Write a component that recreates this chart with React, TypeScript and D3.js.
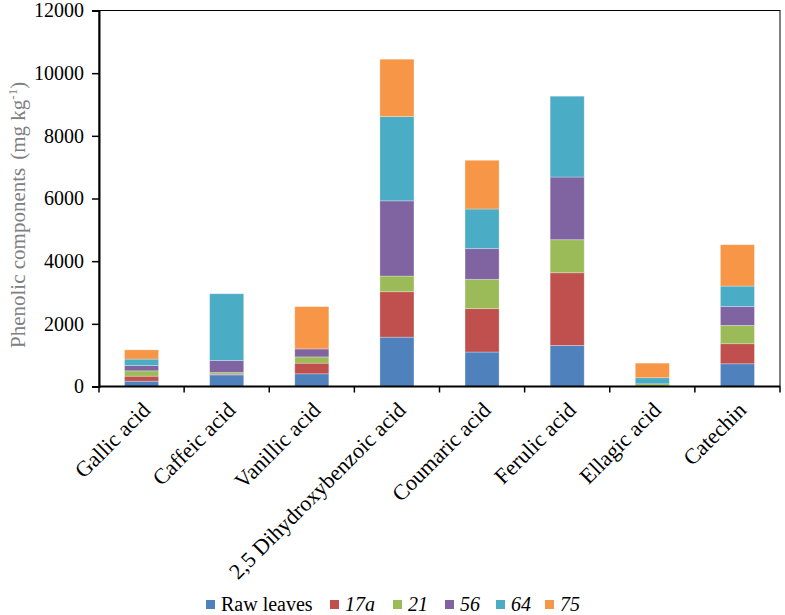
import React, { useEffect, useRef } from 'react';
import * as d3 from 'd3';

const categories = [
    'Gallic acid',
    'Caffeic acid',
    'Vanillic acid',
    '2,5 Dihydroxybenzoic acid',
    'Coumaric acid',
    'Ferulic acid',
    'Ellagic acid',
    'Catechin'
];

const seriesNames = ['Raw leaves', '17a', '21', '56', '64', '75'];
const seriesColors = ['#4F81BD', '#C0504D', '#9BBB59', '#8064A2', '#4BACC6', '#F79646'];

// values per series, one per category (mg kg-1)
const rawLeaves = [170, 370, 405, 1575, 1100, 1310, 0, 725];
const s17a = [160, 25, 340, 1450, 1385, 2320, 0, 640];
const s21 = [170, 50, 200, 500, 935, 1055, 85, 585];
const s56 = [170, 385, 255, 2400, 980, 2000, 0, 605];
const s64 = [205, 2130, 0, 2690, 1265, 2580, 195, 650];
const s75 = [295, 0, 1350, 1830, 1555, 0, 465, 1320];

const yTicks = [0, 2000, 4000, 6000, 8000, 10000, 12000];

const App: React.FC = () => {
    const svgRef = useRef<SVGSVGElement>(null);

    useEffect(() => {
        if (!svgRef.current) return;
        const width = 785;
        const height = 615;
        const font = '"Liberation Serif", "Times New Roman", serif';

        const svg = d3.select(svgRef.current);
        svg.selectAll('*').remove();
        svg.attr('width', width).attr('height', height).style('font-family', font);

        const left = 99, right = 780, top = 10.5, bottom = 386.5;

        const x = d3.scaleBand<string>()
            .domain(categories)
            .range([left, right])
            .paddingInner(0.6)
            .paddingOuter(0.3);

        const y = d3.scaleLinear().domain([0, 12000]).range([bottom, top]);

        const allSeries = [rawLeaves, s17a, s21, s56, s64, s75];
        const rows = categories.map((c, i) => {
            const row: Record<string, number | string> = { category: c };
            seriesNames.forEach((s, j) => { row[s] = allSeries[j][i]; });
            return row;
        });

        const stacked = d3.stack<Record<string, number | string>>()
            .keys(seriesNames)
            .value((d, k) => d[k] as number)(rows);

        const color = d3.scaleOrdinal<string>().domain(seriesNames).range(seriesColors);

        // bars
        svg.append('g')
            .selectAll('g')
            .data(stacked)
            .enter()
            .append('g')
            .attr('fill', d => color(d.key))
            .selectAll('rect')
            .data(d => d)
            .enter()
            .append('rect')
            .attr('x', d => x(d.data.category as string) as number)
            .attr('y', d => y(d[1]))
            .attr('width', x.bandwidth())
            .attr('height', d => Math.max(0, y(d[0]) - y(d[1])))
            .attr('stroke', 'rgba(255,255,255,0.35)')
            .attr('stroke-width', 0.8);

        // frame
        svg.append('rect')
            .attr('x', left)
            .attr('y', top)
            .attr('width', right - left)
            .attr('height', bottom - top)
            .attr('fill', 'none')
            .attr('stroke', '#000')
            .attr('stroke-width', 1);

        // y axis
        const yAxis = svg.append('g')
            .attr('transform', `translate(${left},0)`)
            .call(d3.axisLeft(y).tickValues(yTicks).tickSize(7).tickPadding(8).tickFormat(d => String(d)));
        yAxis.select('.domain').attr('stroke-width', 2);
        yAxis.selectAll('.tick line').attr('stroke-width', 1.5);
        yAxis.selectAll('text')
            .attr('font-size', 20)
            .attr('font-family', font)
            .attr('fill', '#000');

        // x axis baseline with ticks at band boundaries
        svg.append('line')
            .attr('x1', left).attr('x2', right)
            .attr('y1', bottom).attr('y2', bottom)
            .attr('stroke', '#000').attr('stroke-width', 2);
        const step = x.step();
        svg.append('g')
            .selectAll('line')
            .data(d3.range(categories.length + 1))
            .enter()
            .append('line')
            .attr('x1', i => left + i * step)
            .attr('x2', i => left + i * step)
            .attr('y1', bottom)
            .attr('y2', bottom + 6)
            .attr('stroke', '#000')
            .attr('stroke-width', 1.5);

        // x labels rotated
        svg.append('g')
            .selectAll('text')
            .data(categories)
            .enter()
            .append('text')
            .attr('transform', d => `translate(${(x(d) as number) + x.bandwidth() / 2 + 10},${bottom + 25}) rotate(-45)`)
            .attr('text-anchor', 'end')
            .attr('font-size', 22)
            .attr('fill', '#000')
            .text(d => d);

        // y axis title
        const yt = svg.append('text')
            .attr('transform', `translate(25,348) rotate(-90)`)
            .attr('text-anchor', 'start')
            .attr('font-size', 21)
            .attr('fill', '#808080');
        yt.append('tspan').text('Phenolic components');
        yt.append('tspan').attr('dx', 8).text('(mg kg');
        yt.append('tspan').attr('font-size', 13).attr('dy', -8).text('-1');
        yt.append('tspan').attr('dy', 8).text(')');

        // legend
        const legendX = [206, 330, 393, 445, 496, 545];
        const leg = svg.append('g')
            .selectAll('g')
            .data(seriesNames)
            .enter()
            .append('g')
            .attr('transform', (d, i) => `translate(${legendX[i]},611)`);
        leg.append('rect')
            .attr('x', 0)
            .attr('y', -11)
            .attr('width', 9)
            .attr('height', 9)
            .attr('fill', d => color(d));
        leg.append('text')
            .attr('x', 15)
            .attr('font-size', 20)
            .attr('font-style', (d, i) => (i === 0 ? 'normal' : 'italic'))
            .attr('fill', '#000')
            .text(d => d);
    }, []);

    return <svg ref={svgRef} style={{ position: 'absolute', left: 0, top: 0 }}></svg>;
};

export default App;
